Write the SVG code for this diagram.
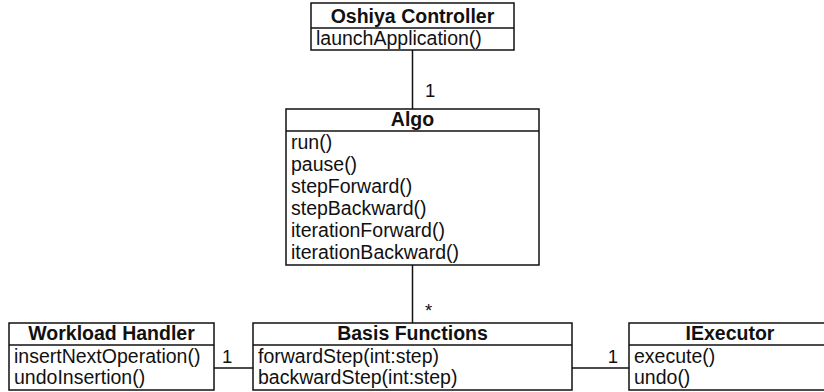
<svg xmlns="http://www.w3.org/2000/svg" width="824" height="392" viewBox="0 0 824 392">
  <style>
    .box { fill: #fff; stroke: #111; stroke-width: 1.5; }
    .sep { stroke: #111; stroke-width: 1.5; }
    .edge { stroke: #111; stroke-width: 1.5; fill: none; }
    text { font-family: "Liberation Sans", Arial, sans-serif; font-size: 19.5px; fill: #111; }
    .title { font-weight: bold; text-anchor: middle; }
    .mult { font-size: 18.5px; }
  </style>
  <rect width="824" height="392" fill="#fff"/>

  <!-- associations -->
  <g id="connectors">
    <line class="edge" x1="412.5" y1="50" x2="412.5" y2="109"/>
    <text class="mult" x="425" y="97">1</text>
    <line class="edge" x1="412.5" y1="265" x2="412.5" y2="323"/>
    <text class="mult" x="425" y="317">*</text>
    <line class="edge" x1="214" y1="368" x2="253" y2="368"/>
    <text class="mult" x="222" y="363">1</text>
    <line class="edge" x1="572" y1="368" x2="629" y2="368"/>
    <text class="mult" x="618" y="363" text-anchor="end">1</text>
  </g>

  <g id="oshiya-controller">
    <rect class="box" x="311" y="3" width="203" height="47"/>
    <line class="sep" x1="311" y1="28" x2="514" y2="28"/>
    <text class="title" x="412.5" y="23">Oshiya Controller</text>
    <text x="316" y="45">launchApplication()</text>
  </g>

  <g id="algo">
    <rect class="box" x="286" y="109" width="253" height="156"/>
    <line class="sep" x1="286" y1="131" x2="539" y2="131"/>
    <text class="title" x="412.5" y="126">Algo</text>
    <text x="291" y="149">run()</text>
    <text x="291" y="171">pause()</text>
    <text x="291" y="193">stepForward()</text>
    <text x="291" y="215">stepBackward()</text>
    <text x="291" y="237">iterationForward()</text>
    <text x="291" y="259">iterationBackward()</text>
  </g>

  <g id="workload-handler">
    <rect class="box" x="9" y="323" width="205" height="67"/>
    <line class="sep" x1="9" y1="345" x2="214" y2="345"/>
    <text class="title" x="111.5" y="340">Workload Handler</text>
    <text x="14" y="363">insertNextOperation()</text>
    <text x="14" y="384">undoInsertion()</text>
  </g>

  <g id="basis-functions">
    <rect class="box" x="253" y="323" width="319" height="67"/>
    <line class="sep" x1="253" y1="345" x2="572" y2="345"/>
    <text class="title" x="412.5" y="340">Basis Functions</text>
    <text x="258" y="363">forwardStep(int:step)</text>
    <text x="258" y="384">backwardStep(int:step)</text>
  </g>

  <g id="iexecutor">
    <rect class="box" x="629" y="323" width="203" height="67"/>
    <line class="sep" x1="629" y1="345" x2="832" y2="345"/>
    <text class="title" x="730" y="340">IExecutor</text>
    <text x="634" y="363">execute()</text>
    <text x="634" y="384">undo()</text>
  </g>
</svg>
